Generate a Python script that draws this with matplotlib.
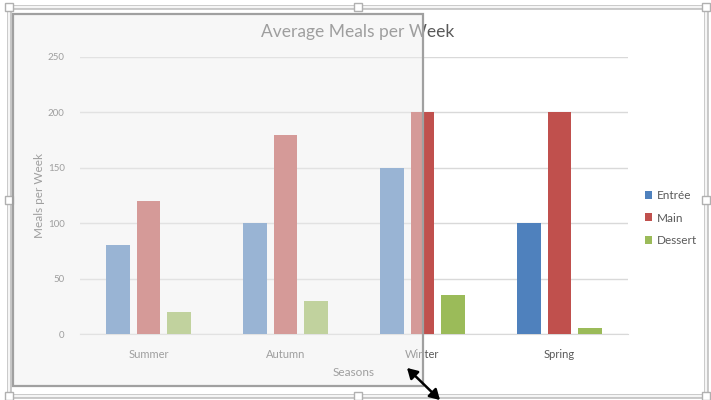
import numpy as np
import matplotlib
matplotlib.use("Agg")
import matplotlib.pyplot as plt
from matplotlib.patches import Rectangle, FancyArrowPatch

plt.rcParams['font.family'] = ['Lato', 'DejaVu Sans']

# data
seasons = ["Summer", "Autumn", "Winter", "Spring"]
series_names = ["Entrée", "Main", "Dessert"]
entree = [80, 100, 150, 100]
main = [120, 180, 200, 200]
dessert = [20, 30, 35, 5]
colors = ["#4F81BD", "#C0504D", "#9BBB59"]
yticks = [0, 50, 100, 150, 200, 250]

W, H = 711, 400
fig = plt.figure(figsize=(W / 100, H / 100), dpi=100)
fig.patch.set_facecolor("white")


def fx(x):
    return x / W


def fy(y):
    return 1 - y / H


# plot area in pixels: x 80..628, y 57..334
ax = fig.add_axes([fx(80), fy(334), fx(628) - fx(80), fy(57) - fy(334)])
ax.set_facecolor("none")

x = np.arange(len(seasons))
bw = 0.175
step = 0.22
for i, (vals, c, name) in enumerate(zip([entree, main, dessert], colors, series_names)):
    ax.bar(x + (i - 1) * step, vals, bw, color=c, label=name, zorder=3)

ax.set_xlim(-0.5, len(seasons) - 0.5)
ax.set_ylim(0, 250)
ax.set_yticks(yticks)
ax.yaxis.grid(True, color="#d9d9d9", lw=1)
ax.set_axisbelow(True)
for s in ["top", "right", "left"]:
    ax.spines[s].set_visible(False)
ax.spines["bottom"].set_color("#d9d9d9")
ax.tick_params(axis="both", length=0, colors="#595959", labelsize=7)
ax.tick_params(axis="y", pad=11)
ax.tick_params(axis="x", pad=11, labelsize=8)
ax.set_xticks(x)
ax.set_xticklabels(seasons)
ax.set_xlabel("Seasons", color="#595959", fontsize=8.5, labelpad=5)
ax.set_ylabel("Meals per Week", color="#595959", fontsize=8.5, labelpad=2)

fig.text(fx(358), fy(32), "Average Meals per Week", ha="center", va="center",
         fontsize=12.5, color="#595959")

leg = ax.legend(loc="center left", bbox_to_anchor=(fx(634), fy(218)),
                bbox_transform=fig.transFigure, frameon=False, fontsize=8.5,
                handlelength=0.65, handleheight=0.65, handletextpad=0.35,
                labelspacing=0.95, labelcolor="#595959")

# selection frame (double line) and handles
fig.patches.append(Rectangle((fx(9), fy(396)), fx(706) - fx(9), fy(7) - fy(396),
                             transform=fig.transFigure, fill=False,
                             ec="#c8c8c8", lw=3.5, zorder=10))
fig.patches.append(Rectangle((fx(9), fy(396)), fx(706) - fx(9), fy(7) - fy(396),
                             transform=fig.transFigure, fill=False,
                             ec="white", lw=1.2, zorder=11))
for hx, hy in [(9, 7), (358, 7), (706, 7), (9, 200), (706, 200),
               (9, 396), (358, 396), (706, 396)]:
    fig.patches.append(Rectangle((fx(hx - 4), fy(hy + 4)), fx(8), 8 / H,
                                 transform=fig.transFigure, fc="white",
                                 ec="#b0b0b0", lw=1, zorder=12))

# translucent drag rectangle
fig.patches.append(Rectangle((fx(13), fy(386)), fx(423) - fx(13), fy(14) - fy(386),
                             transform=fig.transFigure, fc="#eeeeee", alpha=0.47,
                             ec="none", zorder=20))
fig.patches.append(Rectangle((fx(13), fy(386)), fx(423) - fx(13), fy(14) - fy(386),
                             transform=fig.transFigure, fill=False,
                             ec="#a0a0a0", lw=1.6, zorder=21))

# resize cursor
fig.patches.append(FancyArrowPatch((fx(405), fy(366)), (fx(442), fy(402)),
                                   transform=fig.transFigure,
                                   arrowstyle="<|-|>,head_length=6,head_width=3.5",
                                   color="black", lw=1.8, zorder=30))

fig.savefig("out.png", dpi=100)
